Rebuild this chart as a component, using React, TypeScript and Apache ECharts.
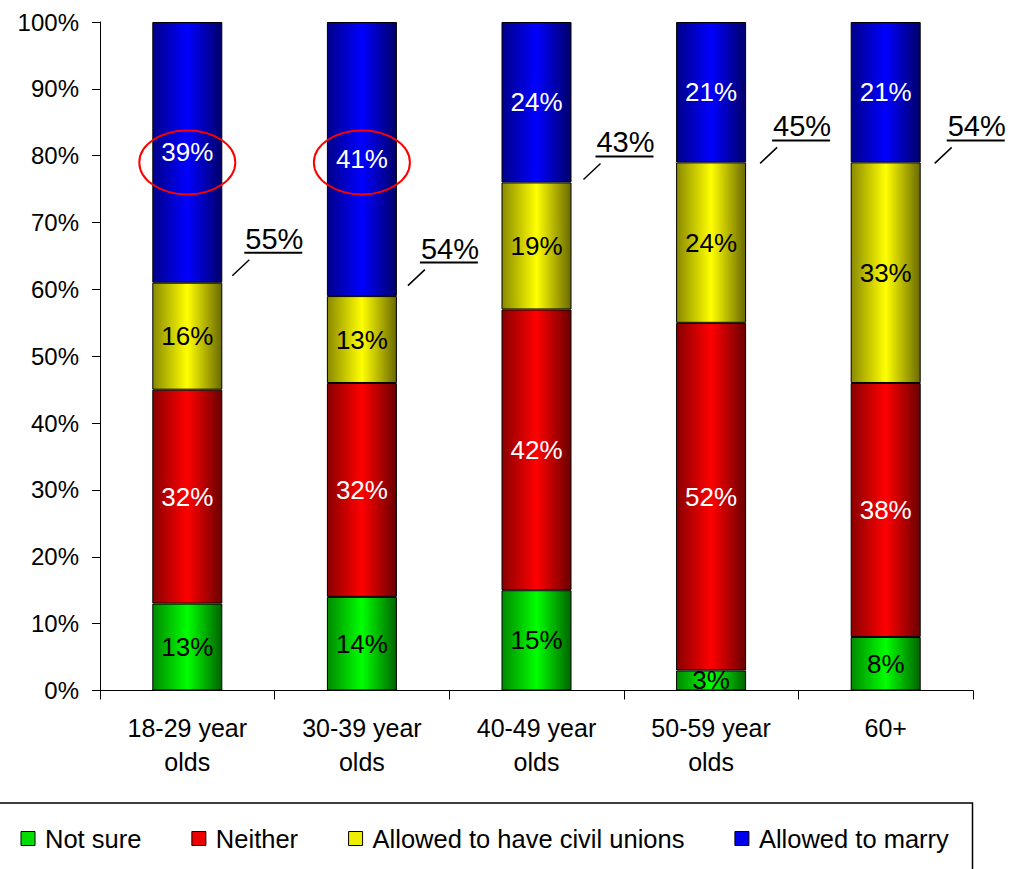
import React, { useEffect, useRef } from "react";
import * as echarts from "echarts";

const categories = ["18-29 year\nolds", "30-39 year\nolds", "40-49 year\nolds", "50-59 year\nolds", "60+"];
const notSure = [13, 14, 15, 3, 8];
const neither = [32, 32, 42, 52, 38];
const civilUnions = [16, 13, 19, 24, 33];
const marry = [39, 41, 24, 21, 21];
const highlighted = [true, true, false, false, false];
const highlightLevel = 79;
const yTicks = [0, 10, 20, 30, 40, 50, 60, 70, 80, 90, 100];

// hand-placed callout nudges (pixels), layout only
const calloutNudgeX = [-2, -1, 0, 2, 2];
const calloutNudgeY = [-3, -6.5, 1, 5, 5];

const FONT = '"Liberation Sans", Arial, sans-serif';

function grad(left: string, mid: string, right: string) {
  return new echarts.graphic.LinearGradient(0, 0, 1, 0, [
    { offset: 0, color: left },
    { offset: 0.5, color: mid },
    { offset: 1, color: right },
  ]);
}

export default function App() {
  const ref = useRef<HTMLDivElement>(null);
  useEffect(() => {
    if (!ref.current) return;
    const chart = echarts.init(ref.current, undefined, { renderer: "svg" });

    const seriesDefs = [
      { name: "Not sure", data: notSure, color: grad("#008a00", "#00ff00", "#006400"), flat: "#00dd00", label: "#000" },
      { name: "Neither", data: neither, color: grad("#8a0000", "#ff0000", "#6a0000"), flat: "#ee0000", label: "#fff" },
      { name: "Allowed to have civil unions", data: civilUnions, color: grad("#8a8a00", "#ffff00", "#6a6a00"), flat: "#eeee00", label: "#000" },
      { name: "Allowed to marry", data: marry, color: grad("#00008a", "#0000ff", "#00006a"), flat: "#0000ee", label: "#fff" },
    ];

    const barSeries = seriesDefs.map((s) => ({
      name: s.name,
      type: "bar",
      stack: "total",
      barWidth: 70,
      data: s.data,
      itemStyle: { color: s.color, borderColor: "#000", borderWidth: 1 },
      label: {
        show: true,
        position: "inside",
        formatter: "{c}%",
        color: s.label,
        fontSize: 26,
        fontFamily: FONT,
        textBorderWidth: 0,
      },
      emphasis: { disabled: true },
    }));

    const annotData = categories.map((_, i) => [
      i,
      notSure[i] + neither[i] + civilUnions[i],
      civilUnions[i] + marry[i],
      calloutNudgeX[i],
      calloutNudgeY[i],
    ]);

    const ellipseData = categories
      .map((_, i) => (highlighted[i] ? [i, highlightLevel] : null))
      .filter((d) => d !== null);

    const option: any = {
      animation: false,
      grid: { left: 100, right: 53, top: 22, bottom: 178.5, containLabel: false },
      legend: {
        left: 20.5,
        top: 825.5,
        padding: 0,
        itemWidth: 14,
        itemHeight: 14,
        itemGap: 50,
        icon: "rect",
        selectedMode: false,
        textStyle: { fontSize: 25.5, fontFamily: FONT, color: "#000", padding: [0, 0, 0, 5], lineHeight: 25 },
        data: seriesDefs.map((s) => ({
          name: s.name,
          itemStyle: { color: s.flat, borderColor: "#000", borderWidth: 1 },
        })),
      },
      xAxis: {
        type: "category",
        data: categories,
        axisLine: { lineStyle: { color: "#000", width: 1 } },
        axisTick: { show: true, length: 9, lineStyle: { color: "#000" } },
        axisLabel: { interval: 0, fontSize: 25, lineHeight: 34, fontFamily: FONT, color: "#000", margin: 20 },
      },
      yAxis: {
        type: "value",
        min: 0,
        max: 100,
        interval: 10,
        axisLine: { show: true, lineStyle: { color: "#000", width: 1 } },
        axisTick: { show: true, length: 8, lineStyle: { color: "#000" } },
        splitLine: { show: false },
        axisLabel: {
          fontSize: 24,
          fontFamily: FONT,
          color: "#000",
          margin: 21,
          formatter: (v: number) => (yTicks.includes(v) ? v + "%" : ""),
        },
      },
      series: [
        ...barSeries,
        {
          type: "custom",
          name: "totals",
          coordinateSystem: "cartesian2d",
          silent: true,
          clip: false,
          z: 10,
          data: annotData,
          renderItem: (params: any, api: any) => {
            const p = api.coord([api.value(0), api.value(1)]);
            const total = api.value(2);
            const x = p[0] + api.value(3);
            const y = p[1] + api.value(4);
            return {
              type: "group",
              children: [
                {
                  type: "line",
                  shape: { x1: x + 47, y1: y - 4, x2: x + 64, y2: y - 20 },
                  style: { stroke: "#000", lineWidth: 1.5 },
                },
                {
                  type: "text",
                  style: {
                    text: total + "%",
                    x: x + 89,
                    y: y - 41,
                    textAlign: "center",
                    textVerticalAlign: "middle",
                    font: `29px ${FONT}`,
                    fill: "#000",
                  },
                },
                {
                  type: "line",
                  shape: { x1: x + 59, y1: y - 27, x2: x + 117, y2: y - 27 },
                  style: { stroke: "#000", lineWidth: 2 },
                },
              ],
            };
          },
        },
        {
          type: "custom",
          name: "highlight",
          coordinateSystem: "cartesian2d",
          silent: true,
          clip: false,
          z: 11,
          data: ellipseData,
          renderItem: (params: any, api: any) => {
            const p = api.coord([api.value(0), api.value(1)]);
            return {
              type: "ellipse",
              shape: { cx: p[0], cy: p[1], rx: 48, ry: 32 },
              style: { fill: "none", stroke: "#ff0000", lineWidth: 2 },
            };
          },
        },
      ],
      graphic: [
        {
          type: "rect",
          shape: { x: -1, y: 803, width: 973.5, height: 100 },
          style: { fill: "none", stroke: "#000", lineWidth: 1.5 },
          silent: true,
          z: -1,
        },
      ],
    };

    chart.setOption(option);
    return () => chart.dispose();
  }, []);

  return (
    <div
      ref={ref}
      style={{ position: "fixed", left: 0, top: 0, width: 1026, height: 869, background: "#fff" }}
    />
  );
}
